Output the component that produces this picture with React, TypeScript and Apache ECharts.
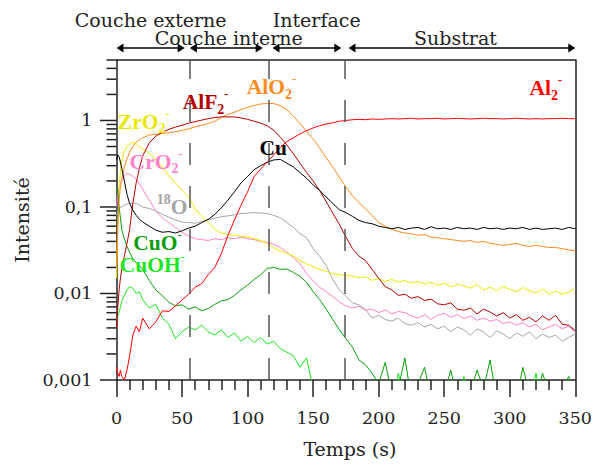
import React, { useEffect, useRef } from "react";
import * as echarts from "echarts";

// ---- Data (time in s, intensity) ----
const times = [0, 1, 2, 3, 4, 6, 8, 10, 12.5, 15, 17.5, 20,
  25, 30, 35, 40, 45, 50, 55, 60, 65, 70,
  75, 80, 85, 90, 95, 100, 105, 110, 115, 120,
  125, 130, 135, 140, 145, 150, 155, 160, 165, 170,
  175, 180, 185, 190, 195, 200, 205, 210, 215, 220,
  225, 230, 235, 240, 245, 250, 255, 260, 265, 270,
  275, 280, 285, 290, 295, 300, 305, 310, 315, 320,
  325, 330, 335, 340, 345, 350];

const al2 = [0.0014, 0.0012, 0.0011, 0.0013, 0.0011, 0.001, 0.0013, 0.0019, 0.0033, 0.0042, 0.0036, 0.0052,
  0.0039, 0.0047, 0.0063, 0.0062, 0.0072, 0.0084, 0.0098, 0.0118, 0.013, 0.0165,
  0.02, 0.029, 0.047, 0.071, 0.105, 0.15, 0.225, 0.275, 0.33, 0.4,
  0.49, 0.57, 0.63, 0.7, 0.76, 0.82, 0.87, 0.91, 0.94, 0.98,
  1.0, 1.02, 1.03, 1.02, 1.04, 1.03, 1.04, 1.05, 1.04, 1.05,
  1.06, 1.04, 1.05, 1.05, 1.06, 1.04, 1.05, 1.06, 1.05, 1.04,
  1.05, 1.06, 1.05, 1.05, 1.04, 1.05, 1.06, 1.05, 1.04, 1.05,
  1.04, 1.05, 1.05, 1.06, 1.05, 1.05];

const alf2 = [0.004, 0.007, 0.011, 0.015, 0.019, 0.027, 0.038, 0.055, 0.11, 0.19, 0.28, 0.39,
  0.55, 0.66, 0.73, 0.79, 0.84, 0.88, 0.93, 0.97, 1.01, 1.05,
  1.08, 1.1, 1.1, 1.1, 1.07, 1.03, 0.98, 0.93, 0.87, 0.77,
  0.64, 0.52, 0.41, 0.32, 0.25, 0.2, 0.155, 0.115, 0.085, 0.063,
  0.045, 0.033, 0.027, 0.024, 0.019, 0.015, 0.012, 0.011, 0.0095, 0.0098,
  0.0088, 0.0092, 0.0083, 0.0086, 0.0076, 0.0074, 0.0078, 0.0066, 0.0064, 0.0068,
  0.0058, 0.0066, 0.0061, 0.0055, 0.006, 0.0052, 0.0057, 0.0049, 0.0053, 0.0047,
  0.0055, 0.0049, 0.0056, 0.0044, 0.0043, 0.0037];

const alo2 = [0.02, 0.06, 0.12, 0.17, 0.21, 0.29, 0.36, 0.43, 0.5, 0.56, 0.6, 0.63,
  0.68, 0.69, 0.71, 0.72, 0.74, 0.77, 0.8, 0.84, 0.88, 0.92,
  0.98, 1.08, 1.17, 1.25, 1.33, 1.42, 1.49, 1.55, 1.57, 1.57,
  1.48, 1.33, 1.12, 0.92, 0.75, 0.61, 0.48, 0.37, 0.29, 0.22,
  0.17, 0.135, 0.112, 0.095, 0.08, 0.066, 0.06, 0.055, 0.052, 0.05,
  0.049, 0.047, 0.048, 0.045, 0.044, 0.043, 0.042, 0.041, 0.04, 0.041,
  0.039, 0.04, 0.038, 0.037, 0.036, 0.037, 0.038, 0.036, 0.035, 0.036,
  0.035, 0.034, 0.034, 0.033, 0.032, 0.031];

const cu = [0.35, 0.4, 0.38, 0.33, 0.28, 0.2, 0.14, 0.11, 0.092, 0.08, 0.072, 0.067,
  0.06, 0.054, 0.051, 0.052, 0.05, 0.053, 0.057, 0.06, 0.066, 0.072,
  0.082, 0.098, 0.12, 0.15, 0.19, 0.225, 0.27, 0.3, 0.33, 0.35,
  0.355, 0.32, 0.29, 0.25, 0.215, 0.18, 0.155, 0.13, 0.11, 0.093,
  0.086, 0.078, 0.07, 0.066, 0.064, 0.06, 0.058, 0.056, 0.058, 0.055,
  0.057, 0.058, 0.055, 0.059, 0.056, 0.057, 0.055, 0.058, 0.056, 0.057,
  0.055, 0.058, 0.056, 0.057, 0.055, 0.057, 0.056, 0.058, 0.055, 0.057,
  0.055, 0.056, 0.057, 0.055, 0.058, 0.056];

const zro2 = [0.015, 0.06, 0.15, 0.27, 0.34, 0.44, 0.5, 0.54, 0.56, 0.54, 0.5, 0.47,
  0.42, 0.35, 0.29, 0.23, 0.19, 0.155, 0.13, 0.095, 0.078, 0.066,
  0.055, 0.05, 0.048, 0.047, 0.046, 0.045, 0.043, 0.041, 0.038, 0.034,
  0.031, 0.029, 0.027, 0.024, 0.022, 0.0205, 0.019, 0.018, 0.017, 0.0165,
  0.0162, 0.0158, 0.0152, 0.0155, 0.0142, 0.0148, 0.0138, 0.0146, 0.0135, 0.0142,
  0.0132, 0.0138, 0.0128, 0.0135, 0.0124, 0.0131, 0.0119, 0.0128, 0.0122, 0.0115,
  0.0126, 0.011, 0.0118, 0.0108, 0.0121, 0.0112, 0.0105, 0.0117, 0.0108, 0.0102,
  0.0112, 0.0099, 0.0106, 0.0098, 0.0104, 0.0115];

const cro2 = [0.1, 0.14, 0.17, 0.19, 0.2, 0.23, 0.245, 0.24, 0.225, 0.21, 0.185, 0.16,
  0.12, 0.09, 0.075, 0.066, 0.058, 0.051, 0.046, 0.043, 0.042, 0.041,
  0.043, 0.042, 0.044, 0.043, 0.045, 0.043, 0.042, 0.04, 0.039, 0.037,
  0.034, 0.03, 0.026, 0.022, 0.017, 0.014, 0.0118, 0.0105, 0.0092, 0.008,
  0.0072, 0.0068, 0.0071, 0.0064, 0.0066, 0.006, 0.0065, 0.0058, 0.0062, 0.006,
  0.0055, 0.0052, 0.0057, 0.005, 0.0056, 0.0059, 0.0053, 0.0057, 0.0051, 0.0055,
  0.0049, 0.0052, 0.0048, 0.005, 0.0045, 0.0047, 0.0043, 0.0046, 0.0041, 0.0044,
  0.0038, 0.0041, 0.0044, 0.0039, 0.0042, 0.0036];

const o18 = [0.08, 0.09, 0.095, 0.1, 0.1, 0.105, 0.108, 0.11, 0.111, 0.11, 0.105, 0.1,
  0.096, 0.09, 0.082, 0.076, 0.071, 0.067, 0.066, 0.065, 0.068, 0.071,
  0.074, 0.077, 0.079, 0.081, 0.084, 0.085, 0.086, 0.085, 0.084, 0.08,
  0.075, 0.066, 0.058, 0.049, 0.044, 0.033, 0.027, 0.021, 0.0145, 0.011,
  0.0092, 0.0078, 0.0074, 0.0065, 0.0052, 0.0056, 0.005, 0.0048, 0.0052, 0.0045,
  0.0043, 0.0046, 0.0041, 0.0044, 0.0039, 0.0042, 0.0036, 0.0041, 0.0038, 0.0033,
  0.0039, 0.0036, 0.0031, 0.0037, 0.0034, 0.003, 0.0035, 0.0032, 0.0036, 0.003,
  0.0034, 0.0031, 0.0033, 0.0028, 0.0031, 0.0034];

const cuo = [0.17, 0.15, 0.1, 0.075, 0.055, 0.043, 0.035, 0.03, 0.025, 0.023, 0.021, 0.019,
  0.0142, 0.011, 0.0094, 0.0079, 0.0072, 0.0074, 0.0066, 0.007, 0.0063, 0.0067,
  0.0075, 0.0082, 0.0085, 0.0095, 0.011, 0.0125, 0.0145, 0.0165, 0.0195, 0.02,
  0.019, 0.0192, 0.0175, 0.0158, 0.0135, 0.0105, 0.0085, 0.0066, 0.005, 0.0038,
  0.003, 0.0024, 0.0017, 0.0015, 0.0012, 0.0009, 0.0016, 0.0007, 0.0008, 0.0018,
  0.0006, 0.0009, 0.0014, 0.0006, 0.0008, 0.0007, 0.0013, 0.0006, 0.0009, 0.0007,
  0.0013, 0.0008, 0.0017, 0.0006, 0.0008, 0.0007, 0.0006, 0.0014, 0.0007, 0.0006,
  0.0012, 0.0007, 0.0006, 0.0008, 0.0011, 0.0006];

const cuoh = [0.005, 0.0055, 0.006, 0.007, 0.0082, 0.0095, 0.011, 0.012, 0.0115, 0.01, 0.0105, 0.0085,
  0.0068, 0.0075, 0.0052, 0.0044, 0.003, 0.0036, 0.0041, 0.0038, 0.0043, 0.0036,
  0.0033, 0.0038, 0.0031, 0.0035, 0.0028, 0.0032, 0.0027, 0.0031, 0.0026, 0.0028,
  0.0023, 0.0021, 0.0019, 0.0014, 0.0018, 0.0008, 0.0006, 0.0005, 0.0005, 0.0005,
  0.0005, 0.0005, 0.0005, 0.0005, 0.0005, 0.0005, 0.0005, 0.0005, 0.0012, 0.0005,
  0.0005, 0.0005, 0.0005, 0.0005, 0.0005, 0.0005, 0.0005, 0.0005, 0.0011, 0.0005,
  0.0005, 0.0005, 0.0005, 0.0005, 0.0005, 0.0005, 0.0005, 0.0005, 0.0005, 0.0012,
  0.0005, 0.0005, 0.0005, 0.0005, 0.0005, 0.0005];

const yDecades = [0.001, 0.01, 0.1, 1];
const yMin = 0.001;
const yMax = 5;
const xTicks = { min: 0, max: 350, interval: 50 };
const dividers = [56, 116, 174.5];
const zoneArrows = [[0, 52], [56, 111.5], [119, 171.5], [177, 350]];
const zoneTitles = [
  { text: "Couche externe", t: 26.1, row: 0 },
  { text: "Couche interne", t: 85.6, row: 1 },
  { text: "Interface", t: 152.7, row: 0 },
  { text: "Substrat", t: 258.6, row: 1 },
];

const seriesDefs = [
  { name: "18O", values: o18, color: "#a6a6a6" },
  { name: "CrO2-", values: cro2, color: "#ff80c8" },
  { name: "ZrO2-", values: zro2, color: "#eeee00" },
  { name: "CuOH-", values: cuoh, color: "#1ee61e" },
  { name: "CuO-", values: cuo, color: "#0a9f0a" },
  { name: "AlO2-", values: alo2, color: "#ff8a1c" },
  { name: "AlF2-", values: alf2, color: "#b40000" },
  { name: "Cu", values: cu, color: "#000000" },
  { name: "Al2-", values: al2, color: "#ff0000" },
];

const seriesLabels = [
  { text: "{b|ZrO}{s|2}{p|-}", color: "#e8e800", t: 1, v: 0.97 },
  { text: "{b|AlF}{s|2}{p|-}", color: "#b40000", t: 50.5, v: 1.62 },
  { text: "{b|AlO}{s|2}{p|-}", color: "#ff8a1c", t: 99.3, v: 2.41 },
  { text: "{b|Al}{s|2}{p|-}", color: "#ff0000", t: 315, v: 2.35 },
  { text: "{b|CrO}{s|2}{p|-}", color: "#ff80c8", t: 10, v: 0.335 },
  { text: "{b|Cu}", color: "#000000", t: 109, v: 0.486 },
  { text: "{q|18}{b|O}", color: "#a6a6a6", t: 30.7, v: 0.1 },
  { text: "{b|CuO}{p|-}", color: "#0a9f0a", t: 12.8, v: 0.0386 },
  { text: "{b|CuOH}{p|-}", color: "#1ee61e", t: 2.5, v: 0.0215 },
];

const INK = "#222222";
const SERIF = '"DejaVu Serif", serif';
const LABEL_FONT = '"Liberation Serif", "DejaVu Serif", serif';

export default function App() {
  const ref = useRef<HTMLDivElement>(null);

  useEffect(() => {
    if (!ref.current) return;
    const chart = echarts.init(ref.current, null, { renderer: "svg", width: 595, height: 464 });

    const series: any[] = seriesDefs.map((d) => ({
      type: "line",
      name: d.name,
      data: times.map((t, i) => [t, d.values[i]]),
      showSymbol: false,
      symbol: "none",
      silent: true,
      clip: true,
      lineStyle: { color: d.color, width: 1 },
      itemStyle: { color: d.color },
    }));
    series.push({
      type: "line",
      name: "zones",
      data: [],
      silent: true,
      markLine: {
        silent: true,
        symbol: ["none", "none"],
        label: { show: false },
        lineStyle: { type: [22, 21], color: "#555555", width: 1.5 },
        data: dividers.map((t) => ({ xAxis: t })),
      },
    });

    chart.setOption({
      animation: false,
      grid: { left: 116.5, right: 19, top: 60, bottom: 84, containLabel: false },
      xAxis: [
        {
          type: "value",
          min: xTicks.min,
          max: xTicks.max,
          interval: xTicks.interval,
          offset: 3,
          name: "Temps (s)",
          nameLocation: "middle",
          nameGap: 56,
          nameTextStyle: { fontFamily: SERIF, fontSize: 19, color: INK, padding: [0, 0, 0, 8] },
          axisLine: { show: true, lineStyle: { color: INK, width: 1.5 } },
          axisTick: { show: true, length: 17, lineStyle: { color: INK, width: 1.5 } },
          minorTick: { show: true, splitNumber: 5, length: 10, lineStyle: { color: INK, width: 1.5 } },
          axisLabel: { fontFamily: SERIF, fontSize: 17.5, color: INK, margin: 26 },
          splitLine: { show: false },
          minorSplitLine: { show: false },
        },
        {
          type: "value",
          position: "top",
          min: xTicks.min,
          max: xTicks.max,
          axisLine: { show: true, onZero: false, lineStyle: { color: INK, width: 1.5 } },
          axisTick: { show: false },
          axisLabel: { show: false },
          splitLine: { show: false },
        },
      ],
      yAxis: [
        {
          type: "log",
          logBase: 10,
          min: yMin,
          max: yMax,
          name: "Intensité",
          nameLocation: "middle",
          nameGap: 79,
          nameRotate: 90,
          nameTextStyle: { fontFamily: SERIF, fontSize: 19, color: INK },
          axisLine: { show: true, lineStyle: { color: INK, width: 1.5 } },
          axisTick: { show: false },
          axisLabel: {
            fontFamily: SERIF,
            fontSize: 17.5,
            color: INK,
            margin: 24,
            showMaxLabel: false,
            formatter: (v: number) => String(Number(v.toPrecision(6))).replace(".", ","),
          },
          splitLine: { show: false },
        },
        {
          type: "value",
          position: "right",
          min: 0,
          max: 1,
          axisLine: { show: true, onZero: false, lineStyle: { color: INK, width: 1.5 } },
          axisTick: { show: false },
          axisLabel: { show: false },
          splitLine: { show: false },
        },
      ],
      series,
    });

    const px = (t: number) => chart.convertToPixel({ xAxisIndex: 0 }, t) as number;
    const py = (v: number) => chart.convertToPixel({ yAxisIndex: 0 }, v) as number;
    const x0 = px(0);
    const graphic: any[] = [];

    // y-axis major and minor ticks
    yDecades.forEach((base) => {
      const y = py(base);
      graphic.push({
        type: "line",
        silent: true,
        shape: { x1: x0 - 16.5, y1: y, x2: x0, y2: y },
        style: { stroke: INK, lineWidth: 1.5 },
      });
      for (let k = 2; k <= 9; k++) {
        const v = k * base;
        if (v > yMax + 1e-9) break;
        const ym = py(v);
        graphic.push({
          type: "line",
          silent: true,
          shape: { x1: x0 - 10, y1: ym, x2: x0, y2: ym },
          style: { stroke: INK, lineWidth: 1.5 },
        });
      }
    });

    // zone arrows
    const arrowY = 48;
    const headL = 7;
    const headH = 4.5;
    zoneArrows.forEach(([a, b]) => {
      const xa = px(a);
      const xb = px(b);
      graphic.push({
        type: "line",
        silent: true,
        shape: { x1: xa + 2, y1: arrowY, x2: xb - 2, y2: arrowY },
        style: { stroke: "#000", lineWidth: 1.5 },
      });
      graphic.push({
        type: "polygon",
        silent: true,
        shape: { points: [[xa, arrowY], [xa + headL, arrowY - headH], [xa + headL, arrowY + headH]] },
        style: { fill: "#000" },
      });
      graphic.push({
        type: "polygon",
        silent: true,
        shape: { points: [[xb, arrowY], [xb - headL, arrowY - headH], [xb - headL, arrowY + headH]] },
        style: { fill: "#000" },
      });
    });

    // zone titles
    zoneTitles.forEach((z) => {
      graphic.push({
        type: "text",
        silent: true,
        x: px(z.t),
        y: z.row === 0 ? 19.5 : 38,
        style: {
          text: z.text,
          fill: INK,
          fontFamily: SERIF,
          fontSize: 19,
          align: "center",
          verticalAlign: "middle",
          textAlign: "center",
          textVerticalAlign: "middle",
        },
      });
    });

    // series labels
    seriesLabels.forEach((l) => {
      const rich = {
        b: { fontFamily: LABEL_FONT, fontWeight: "bold", fontSize: 21.5, lineHeight: 28, fill: l.color, verticalAlign: "middle" },
        s: { fontFamily: LABEL_FONT, fontWeight: "bold", fontSize: 14, lineHeight: 14, fill: l.color, verticalAlign: "bottom" },
        p: { fontFamily: LABEL_FONT, fontWeight: "bold", fontSize: 12, lineHeight: 13, fill: l.color, verticalAlign: "top" },
        q: { fontFamily: LABEL_FONT, fontWeight: "bold", fontSize: 14, lineHeight: 14, fill: l.color, verticalAlign: "top" },
      };
      graphic.push({
        type: "text",
        silent: true,
        z: 100,
        x: px(l.t),
        y: py(l.v),
        style: {
          text: l.text,
          rich,
          fill: l.color,
          align: "left",
          verticalAlign: "middle",
          textAlign: "left",
          textVerticalAlign: "middle",
        },
      });
    });

    chart.setOption({ graphic });

    return () => {
      chart.dispose();
    };
  }, []);

  return (
    <div
      ref={ref}
      style={{ position: "fixed", left: 0, top: 0, width: 595, height: 464, background: "#fff" }}
    />
  );
}
